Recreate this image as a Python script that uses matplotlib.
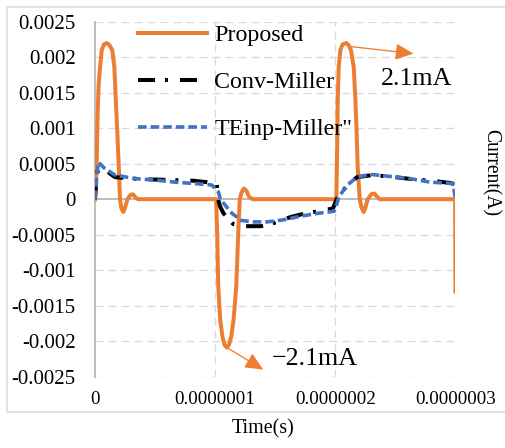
import matplotlib
matplotlib.use("Agg")
import matplotlib.pyplot as plt
from matplotlib.patches import Rectangle
import numpy as np

plt.rcParams['font.family'] = ['Liberation Serif', 'DejaVu Serif']

# ---- data (time in ns, current in A) ----
t_prop = [0, 1.2, 2.2, 3, 4.2, 5.6, 7.5, 9.7, 12, 14.4, 16.1, 17.3, 18.6, 19.8, 20.8, 22, 23.6, 25, 27,
          29.5, 31.5, 34, 36,
          100.8, 101.7, 102.6, 104.2, 106.1, 107.8, 109.7, 111.5, 113.3, 115.3, 117.5, 119.4, 120.5, 122,
          124, 126, 128, 130, 132,
          200.8, 201.5, 202, 202.8, 204.2, 206, 209, 211, 213, 215.3, 216.7, 217.8, 218.6, 220.3, 222,
          223.6, 225, 227, 230, 232.5, 235, 237,
          299.7, 300]
i_prop = [0, 0.0004, 0.0012, 0.0016, 0.00186, 0.0021, 0.00218, 0.0022, 0.00217, 0.0021, 0.00186, 0.0014,
          0.00093, 0.00045, 0, -0.00013, -0.00018, -0.00012, 0, 0.00006, 0.00007, 0.00002, 0,
          0, -0.0005, -0.00124, -0.0017, -0.00194, -0.00205, -0.00209, -0.00205, -0.00194, -0.0017, -0.00124,
          -0.0004, 0, 0.0001, 0.00015, 0.00012, 0.00004, 0.00001, 0,
          0, 0.0007, 0.0014, 0.00186, 0.0021, 0.00218, 0.0022, 0.00217, 0.0021, 0.00186, 0.0014, 0.0009,
          0.00045, 0, -0.00013, -0.00018, -0.00012, 0, 0.00007, 0.00008, 0.00003, 0,
          0, -0.0013]

t_conv = [0, 1.5, 3, 6.7, 12.5, 16.7, 25, 32, 43, 65, 82, 93, 101.4, 102.5, 104, 107, 115, 125, 138,
          150, 163, 175, 186, 198, 201, 210, 218, 231, 250, 265, 280, 295, 300]
i_conv = [0, 0.00038, 0.0004, 0.00045, 0.00036, 0.00031, 0.0003, 0.00029, 0.00028, 0.00027, 0.00026, 0.00024,
          0.0002, 0, -0.0001, -0.0002, -0.00035, -0.00038, -0.00038, -0.00033, -0.00025, -0.0002, -0.00017,
          -0.00013, 0, 0.0002, 0.00031, 0.00034, 0.00031, 0.00028, 0.00026, 0.00023, 0.00021]

t_te = [0, 1.4, 2.8, 8.3, 16.7, 33.3, 50, 66.7, 83.3, 97.2, 102.8, 104.2, 114, 122, 132, 143, 157, 171,
        185, 199, 201.4, 202.8, 210, 218, 221, 229, 246, 262, 279, 298, 300]
i_te = [0, 0.0003, 0.00052, 0.00043, 0.00034, 0.00029, 0.00027, 0.00024, 0.00022, 0.0002, 0.0001, 0,
        -0.0002, -0.0003, -0.00032, -0.00032, -0.00029, -0.00024, -0.0002, -0.00017, -0.00006, 0.00003,
        0.0002, 0.00031, 0.00032, 0.00035, 0.00032, 0.00029, 0.00024, 0.00022, 0]

series_names = ['Proposed', 'Conv-Miller', 'TEinp-Miller"']
y_ticks = [-0.0025, -0.002, -0.0015, -0.001, -0.0005, 0, 0.0005, 0.001, 0.0015, 0.002, 0.0025]
y_labels = ['-0.0025', '-0.002', '-0.0015', '-0.001', '-0.0005', '0', '0.0005', '0.001', '0.0015', '0.002', '0.0025']
x_ticks = [0, 1e-7, 2e-7, 3e-7]
x_labels = ['0', '0.0000001', '0.0000002', '0.0000003']

ORANGE = '#ED7D31'
BLUE = '#4472C4'
W, H = 506, 448

fig = plt.figure(figsize=(W / 100, H / 100), dpi=100)
ax = fig.add_axes([95 / W, 1 - 376.7 / H, (455.5 - 95) / W, (376.7 - 21.7) / H])

ns = 1e-9
px = 0.72
ax.plot(np.array(t_prop) * ns, i_prop, color=ORANGE, lw=4 * px, label=series_names[0],
        solid_joinstyle='round', zorder=3)
ax.plot(np.array(t_conv) * ns, i_conv, color='black', lw=4 * px, label=series_names[1],
        linestyle=(0, (4.25, 2.5, 0.75, 3)), dash_capstyle='butt', zorder=4)
ax.plot(np.array(t_te) * ns, i_te, color=BLUE, lw=3.6 * px, label=series_names[2],
        linestyle=(0, (2.4, 1.1)), zorder=5)

ax.set_xlim(0, 3e-7)
ax.set_ylim(-0.0025, 0.0025)
ax.set_yticks(y_ticks)
ax.set_yticklabels(y_labels, fontsize=15)
ax.set_xticks(x_ticks)
ax.set_xticklabels(x_labels, fontsize=13.6)
ax.tick_params(axis='both', length=0)
ax.tick_params(axis='y', pad=14)
ax.tick_params(axis='x', pad=10)

for s in ['top', 'right', 'bottom']:
    ax.spines[s].set_visible(False)
ax.spines['left'].set_color('#bfbfbf')
ax.spines['left'].set_linewidth(2 * px)
ax.axhline(0, color='#bfbfbf', lw=2 * px, zorder=2)

grid_kw = dict(color='#d9d9d9', lw=1.3 * px, linestyle=(0, (6, 4)), zorder=1)
for y in y_ticks:
    if y != 0:
        ax.axhline(y, **grid_kw)
for x in x_ticks[1:]:
    ax.axvline(x, **grid_kw)

leg = ax.legend(loc='upper left', bbox_to_anchor=((128 - 95) / 360.5, 1.02), frameon=False,
                fontsize=17.3, handlelength=2.9, handletextpad=0.3, labelspacing=1.05,
                borderaxespad=0)

# annotations
ax.annotate('', xy=(265 * ns, 0.00205), xytext=(212.5 * ns, 0.00215),
            arrowprops=dict(arrowstyle='-|>,head_length=11,head_width=5', mutation_scale=1,
                            color=ORANGE, lw=1.3 * px, shrinkA=0, shrinkB=0), zorder=6)
ax.text(268 * ns, 0.0017, '2.1mA', fontsize=18.7, ha='center', va='center')
ax.annotate('', xy=(140 * ns, -0.0024), xytext=(109.7 * ns, -0.00209),
            arrowprops=dict(arrowstyle='-|>,head_length=11,head_width=5', mutation_scale=1,
                            color=ORANGE, lw=1.3 * px, shrinkA=0, shrinkB=0), zorder=6)
ax.text(182.5 * ns, -0.00225, '\u22122.1mA', fontsize=18.7, ha='center', va='center')

fig.text(263 / W, 1 - 429 / H, 'Time(s)', fontsize=14.4, ha='center', va='center')
fig.text(490 / W, 1 - 173 / H, 'Current(A)', fontsize=14.1, ha='center', va='center', rotation=-90)

fig.patches.append(Rectangle((7 / W, 1 - 412 / H), 510 / W, (412 - 7) / H, transform=fig.transFigure,
                             fill=False, edgecolor='#d9d9d9', lw=1.5 * px))

fig.savefig('out.png', dpi=100)
